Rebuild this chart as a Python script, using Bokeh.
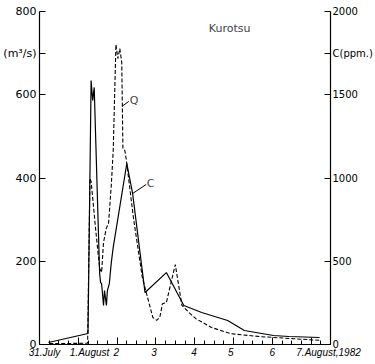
from bokeh.plotting import figure
from bokeh.models import Range1d, LinearAxis, FixedTicker, Label
from bokeh.embed import file_html
from bokeh.resources import INLINE

# time in days since 31 July 1982 00:00
q_day = [0.25, 1.24, 1.30, 1.33, 1.45, 1.55, 1.60, 1.65, 1.72, 1.78, 1.85, 1.90, 1.97, 2.02,
         2.07, 2.12, 2.15, 2.20, 2.24, 2.42, 2.65, 2.92, 3.02, 3.10, 3.17, 3.27, 3.50, 3.67,
         3.85, 4.03, 4.43, 4.93, 5.68, 6.53, 7.22]
q_val = [2, 3, 399, 392, 274, 183, 173, 245, 279, 291, 382, 466, 721, 687,
         711, 677, 471, 466, 442, 305, 161, 65, 58, 65, 98, 101, 192, 94,
         77, 62, 41, 26, 19, 14, 10]

c_day = [0.23, 1.25, 1.33, 1.37, 1.41, 1.55, 1.575, 1.60, 1.65, 1.675, 1.725, 1.75, 1.80,
         1.85, 1.90, 2.25, 2.40, 2.72, 3.27, 3.72, 4.18, 4.85, 5.28, 6.03, 6.43, 7.22]
c_val = [12, 66, 1586, 1465, 1544, 426, 372, 366, 234, 324, 234, 324, 366,
         492, 583, 1087, 907, 312, 432, 234, 192, 144, 84, 54, 48, 42]

x_ticks = [0, 1, 2, 3, 4, 5, 6, 7]
x_labels = ["31.July", "1.August", "2", "3", "4", "5", "6", "7.August,1982"]
q_ticks = [0, 200, 400, 600, 700, 800]
q_labels = ["0", "200", "400", "600", "(m³/s)", "800"]
c_ticks = [0, 500, 1000, 1500, 1750, 2000]
c_labels = ["0", "500", "1000", "1500", "C(ppm.)", "2000"]

# label placement shift (days) relative to each date tick, for left-set lettering
x_label_shift = [0.13, 0.29, -0.02, -0.05, -0.02, -0.07, 0.0, 0.45]

# annotation anchors (day, value)
title_pos = (4.9, 760)
q_lead = ([2.125, 2.30], [572, 584])
q_text_pos = (2.44, 586)
c_lead = ([2.40, 2.75], [907, 961])
c_text_pos = (2.86, 967)

FONT = "DejaVu Sans"

p = figure(width=375, height=364, x_range=Range1d(0, 7.5), y_range=Range1d(0, 800),
           output_backend="svg", toolbar_location=None,
           min_border_left=36, min_border_right=39, min_border_top=11, min_border_bottom=20)
p.extra_y_ranges = {"c": Range1d(0, 2000)}
p.outline_line_color = None
p.grid.visible = False
p.background_fill_color = "white"

# x axis: tick marks only
p.xaxis.ticker = FixedTicker(ticks=x_ticks, minor_ticks=[i * 0.25 for i in range(31)])
p.xaxis.major_label_overrides = {t: "" for t in x_ticks}
p.xaxis.major_label_text_font_size = "1px"
p.xaxis.major_label_standoff = 0
p.xaxis.major_tick_in = 7
p.xaxis.major_tick_out = 0
p.xaxis.minor_tick_in = 4
p.xaxis.minor_tick_out = 0
p.xaxis.axis_line_width = 1.2
p.xaxis.axis_line_color = "black"
p.xaxis.major_tick_line_color = "black"
p.xaxis.minor_tick_line_color = "black"

# x axis: date lettering
label_pos = [min(t + s, 7.49) for t, s in zip(x_ticks, x_label_shift)]
xl = LinearAxis(ticker=FixedTicker(ticks=label_pos, minor_ticks=[]))
xl.major_label_overrides = {pos: lab for pos, lab in zip(label_pos, x_labels)}
xl.axis_line_color = None
xl.major_tick_line_color = None
xl.minor_tick_line_color = None
xl.major_tick_in = 0
xl.major_tick_out = 0
xl.major_label_standoff = 2
xl.major_label_text_font = "Liberation Sans"
xl.major_label_text_font_style = "italic"
xl.major_label_text_font_size = "10px"
xl.major_label_text_color = "black"
p.add_layout(xl, "below")

# left axis
p.yaxis.ticker = FixedTicker(ticks=q_ticks)
p.yaxis.major_label_overrides = {t: s for t, s in zip(q_ticks, q_labels)}
p.yaxis.major_tick_in = 6
p.yaxis.major_tick_out = 0
p.yaxis.minor_tick_line_color = None
p.yaxis.major_label_standoff = 3
p.yaxis.major_label_text_font = FONT
p.yaxis.major_label_text_font_size = "11px"
p.yaxis.major_label_text_color = "black"
p.yaxis.axis_line_width = 1.2
p.yaxis.axis_line_color = "black"
p.yaxis.major_tick_line_color = "black"

# right axis
ra = LinearAxis(y_range_name="c", ticker=FixedTicker(ticks=c_ticks))
ra.major_label_overrides = {t: s for t, s in zip(c_ticks, c_labels)}
ra.major_tick_in = 6
ra.major_tick_out = 0
ra.minor_tick_line_color = None
ra.major_label_standoff = 2
ra.major_label_text_font = FONT
ra.major_label_text_font_size = "10px"
ra.major_label_text_color = "black"
ra.axis_line_width = 1.2
ra.axis_line_color = "black"
ra.major_tick_line_color = "black"
p.add_layout(ra, "right")

# data
p.line(q_day, q_val, line_color="black", line_width=1.1, line_dash="4 2")
p.line(c_day, c_val, line_color="black", line_width=1.2, y_range_name="c")

# leaders
p.line(q_lead[0], q_lead[1], line_color="black", line_width=1)
p.line(c_lead[0], c_lead[1], line_color="black", line_width=1, y_range_name="c")

p.add_layout(Label(x=q_text_pos[0], y=q_text_pos[1], text="Q", text_align="center",
                   text_baseline="middle", text_font=FONT, text_font_size="11px"))
p.add_layout(Label(x=c_text_pos[0], y=c_text_pos[1], y_range_name="c", text="C",
                   text_align="center", text_baseline="middle", text_font=FONT,
                   text_font_size="11px"))
p.add_layout(Label(x=title_pos[0], y=title_pos[1], text="Kurotsu", text_align="center",
                   text_baseline="middle", text_font=FONT, text_font_size="11px"))

open("out.html", "w").write(file_html(p, INLINE))
